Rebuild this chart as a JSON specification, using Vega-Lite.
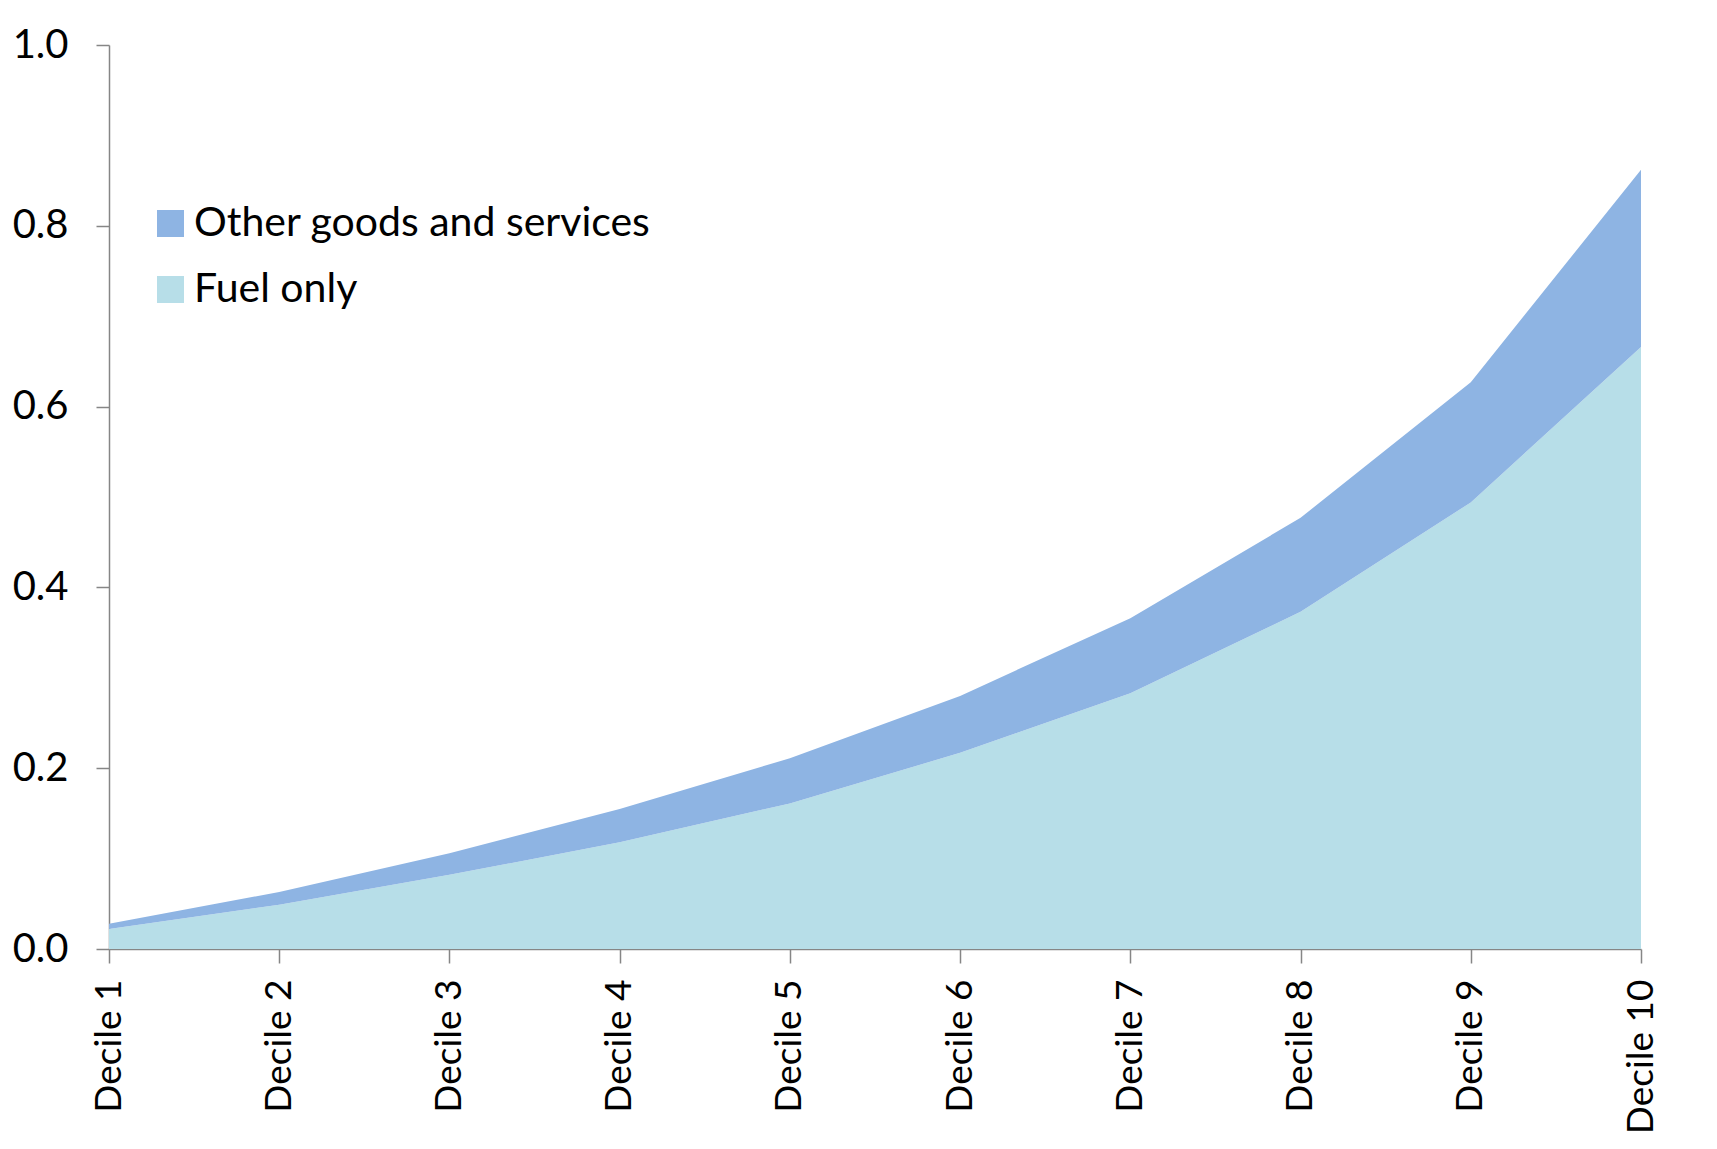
{
  "$schema": "https://vega.github.io/schema/vega-lite/v6.json",
  "width": 1532,
  "height": 904,
  "autosize": {"type": "none"},
  "padding": {"left": 109, "top": 45, "right": 76, "bottom": 200},
  "background": "white",
  "config": {
    "view": {"stroke": null},
    "font": "Lato",
    "axis": {
      "labelFont": "Lato",
      "labelColor": "black",
      "domainColor": "#868686",
      "tickColor": "#868686",
      "domainWidth": 1.5,
      "tickWidth": 1.5,
      "grid": false,
      "title": null
    }
  },
  "data": {
    "values": [
      {"decile": "Decile 1", "series": "Fuel only", "value": 0.022},
      {"decile": "Decile 2", "series": "Fuel only", "value": 0.049},
      {"decile": "Decile 3", "series": "Fuel only", "value": 0.082},
      {"decile": "Decile 4", "series": "Fuel only", "value": 0.118},
      {"decile": "Decile 5", "series": "Fuel only", "value": 0.161},
      {"decile": "Decile 6", "series": "Fuel only", "value": 0.217},
      {"decile": "Decile 7", "series": "Fuel only", "value": 0.283},
      {"decile": "Decile 8", "series": "Fuel only", "value": 0.373},
      {"decile": "Decile 9", "series": "Fuel only", "value": 0.494},
      {"decile": "Decile 10", "series": "Fuel only", "value": 0.666},
      {"decile": "Decile 1", "series": "Other goods and services", "value": 0.006},
      {"decile": "Decile 2", "series": "Other goods and services", "value": 0.014},
      {"decile": "Decile 3", "series": "Other goods and services", "value": 0.024},
      {"decile": "Decile 4", "series": "Other goods and services", "value": 0.037},
      {"decile": "Decile 5", "series": "Other goods and services", "value": 0.050},
      {"decile": "Decile 6", "series": "Other goods and services", "value": 0.063},
      {"decile": "Decile 7", "series": "Other goods and services", "value": 0.083},
      {"decile": "Decile 8", "series": "Other goods and services", "value": 0.104},
      {"decile": "Decile 9", "series": "Other goods and services", "value": 0.133},
      {"decile": "Decile 10", "series": "Other goods and services", "value": 0.196}
    ]
  },
  "mark": {"type": "area", "opacity": 1},
  "encoding": {
    "x": {
      "field": "decile",
      "type": "ordinal",
      "sort": ["Decile 1", "Decile 2", "Decile 3", "Decile 4", "Decile 5", "Decile 6", "Decile 7", "Decile 8", "Decile 9", "Decile 10"],
      "scale": {"type": "point", "padding": 0},
      "axis": {"labelAngle": -90, "labelFontSize": 37, "tickSize": 14, "labelPadding": 16, "labelAlign": "right", "labelBaseline": "middle"}
    },
    "y": {
      "field": "value",
      "type": "quantitative",
      "stack": "zero",
      "scale": {"domain": [0, 1]},
      "axis": {"values": [0, 0.2, 0.4, 0.6, 0.8, 1.0], "format": ".1f", "labelFontSize": 40, "tickSize": 13, "labelPadding": 28}
    },
    "color": {
      "field": "series",
      "type": "nominal",
      "scale": {"domain": ["Other goods and services", "Fuel only"], "range": ["#8EB4E3", "#B7DEE8"]},
      "legend": {
        "title": null,
        "orient": "none",
        "legendX": 41,
        "legendY": 158,
        "symbolType": "square",
        "symbolSize": 729,
        "symbolOpacity": 1,
        "symbolStrokeWidth": 0,
        "labelFont": "Lato",
        "labelFontSize": 41,
        "labelColor": "black",
        "labelOffset": 3,
        "rowPadding": 24,
        "labelLimit": 800
      }
    },
    "order": {"field": "series", "sort": "ascending"}
  }
}
